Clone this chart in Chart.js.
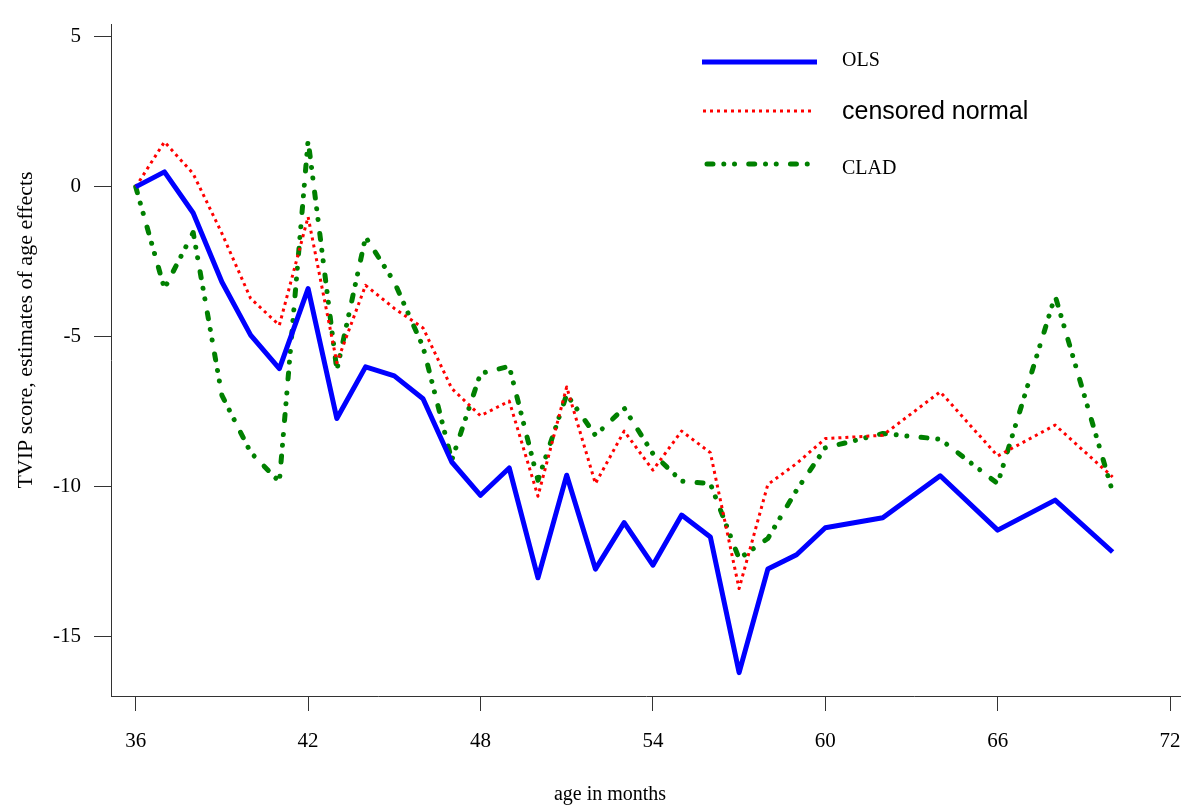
<!DOCTYPE html>
<html>
<head>
<meta charset="utf-8">
<script src="https://cdn.jsdelivr.net/npm/chart.js@4.4.1/dist/chart.umd.min.js"></script>
<style>
  body { margin: 0; background: #fff; }
  #wrap { width: 1181px; height: 808px; position: relative; }
</style>
</head>
<body>
<div id="wrap"><canvas id="ageChart"></canvas></div>
<script>
// age in months (monthly up to 60, then every 2 months)
const months = [36,37,38,39,40,41,42,43,44,45,46,47,48,49,50,51,52,53,54,55,56,57,58,59,60,62,64,66,68,70];
const olsVals = [0,0.5,-0.87,-3.17,-4.94,-6.06,-3.39,-7.72,-6.0,-6.3,-7.06,-9.17,-10.28,-9.37,-13.03,-9.61,-12.74,-11.19,-12.61,-10.94,-11.67,-16.19,-12.74,-12.26,-11.36,-11.03,-9.63,-11.44,-10.44,-12.17];
const censVals = [0,1.5,0.44,-1.55,-3.72,-4.61,-1.0,-5.86,-3.28,-4.05,-4.7,-6.72,-7.63,-7.14,-10.31,-6.67,-9.89,-8.14,-9.44,-8.14,-8.86,-13.39,-9.92,-9.22,-8.39,-8.28,-6.83,-8.97,-7.94,-9.67];
const cladVals = [0,-3.39,-1.52,-6.95,-8.85,-9.83,1.56,-6.11,-1.67,-3.17,-5.33,-9.11,-6.22,-5.98,-9.78,-6.92,-8.28,-7.37,-8.89,-9.81,-9.89,-12.39,-11.72,-10.11,-8.7,-8.22,-8.41,-9.89,-3.63,-10.17];
const xTicks = [36,42,48,54,60,66,72];
const yTicks = [5,0,-5,-10,-15];
const seriesNames = ['OLS','censored normal','CLAD'];
const xTitle = 'age in months';
const yTitle = 'TVIP score, estimates of age effects';

const lineStyles = [
  {color: '#0000ff', width: 5, dash: [], cap: 'butt'},
  {color: '#ff0000', width: 3, dash: [3, 4], cap: 'butt'},
  {color: '#008000', width: 5, dash: [6, 10.8, 0.01, 10.7, 0.01, 14.2], cap: 'round'}
];

const toPoints = vals => months.map((m, i) => ({x: m, y: vals[i]}));
const allVals = [olsVals, censVals, cladVals];

// legend + axis titles drawn by hand, fonts differ per entry
const extraText = {
  id: 'extraText',
  afterDraw(chart) {
    const c = chart.ctx;
    const rows = [
      {ly: 62, ty: 61, font: '20px "Liberation Serif"', x1: 702, x2: 817},
      {ly: 111, ty: 112, font: '25px "Liberation Sans"', x1: 703, x2: 815},
      {ly: 164, ty: 169, font: '20px "Liberation Serif"', x1: 707, x2: 808}
    ];
    c.save();
    rows.forEach((r, i) => {
      const s = lineStyles[i];
      c.beginPath();
      c.strokeStyle = s.color;
      c.lineWidth = s.width;
      c.lineCap = s.cap;
      c.setLineDash(s.dash);
      c.moveTo(r.x1, r.ly);
      c.lineTo(r.x2, r.ly);
      c.stroke();
      c.setLineDash([]);
      c.fillStyle = '#000';
      c.font = r.font;
      c.textAlign = 'left';
      c.textBaseline = 'middle';
      c.fillText(seriesNames[i], 842, r.ty);
    });
    c.fillStyle = '#000';
    c.font = '20px "Liberation Serif"';
    c.textAlign = 'center';
    c.textBaseline = 'middle';
    c.fillText(xTitle, 610, 795);
    c.translate(26, 330);
    c.rotate(-Math.PI / 2);
    c.font = '22px "Liberation Serif"';
    c.fillText(yTitle, 0, 0);
    c.restore();
  }
};

new Chart(document.getElementById('ageChart'), {
  type: 'line',
  data: {
    datasets: seriesNames.map((name, i) => ({
      label: name,
      data: toPoints(allVals[i]),
      borderColor: lineStyles[i].color,
      borderWidth: lineStyles[i].width,
      borderDash: lineStyles[i].dash,
      borderCapStyle: lineStyles[i].cap,
      borderJoinStyle: 'round',
      pointRadius: 0,
      tension: 0,
      fill: false
    }))
  },
  options: {
    responsive: true,
    maintainAspectRatio: false,
    animation: false,
    layout: {padding: {top: 24, right: 0, bottom: 0, left: 0}},
    plugins: {
      legend: {display: false},
      tooltip: {enabled: false}
    },
    scales: {
      x: {
        type: 'linear',
        min: 35.14,
        max: 72.38,
        afterBuildTicks: s => { s.ticks = xTicks.map(v => ({value: v})); },
        afterFit: s => { s.height = 112; s.paddingLeft = 0; s.paddingRight = 0; },
        border: {display: true, color: '#333', width: 1},
        grid: {drawOnChartArea: false, drawTicks: true, tickLength: 15, color: '#333'},
        ticks: {
          color: '#000',
          padding: 18,
          maxRotation: 0,
          font: {family: '"Liberation Serif"', size: 21}
        }
      },
      y: {
        type: 'linear',
        min: -16.97,
        max: 5.43,
        afterBuildTicks: s => { s.ticks = yTicks.map(v => ({value: v})); },
        afterFit: s => { s.width = 111; s.paddingTop = 0; s.paddingBottom = 0; },
        border: {display: true, color: '#333', width: 1},
        grid: {drawOnChartArea: false, drawTicks: true, tickLength: 17, color: '#333'},
        ticks: {
          color: '#000',
          padding: 13,
          font: {family: '"Liberation Serif"', size: 21}
        }
      }
    }
  },
  plugins: [extraText]
});
</script>
</body>
</html>
